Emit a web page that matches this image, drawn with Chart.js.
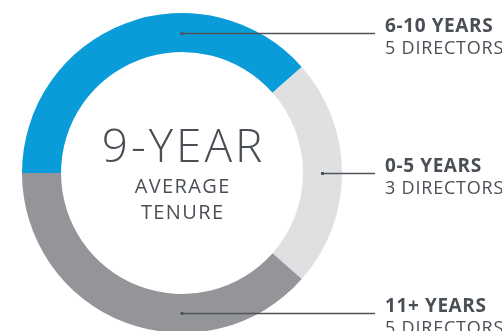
<!DOCTYPE html>
<html>
<head>
<meta charset="utf-8">
<script src="https://cdn.jsdelivr.net/npm/chart.js@4"></script>
<style>
  html, body { margin: 0; padding: 0; background: #fff; overflow: hidden; }
  #tenure-chart { display: block; }
</style>
</head>
<body>
<canvas id="tenure-chart" width="502" height="333"></canvas>
<script>
// Board tenure data
var categories = ['6-10 YEARS', '0-5 YEARS', '11+ YEARS'];
var directors = [5, 3, 5];
var centerTitle = '9-YEAR';
var centerLines = ['AVERAGE', 'TENURE'];

var sliceColors = ['#0a9cd8', '#dfe0e2', '#939598'];
var textColor = '#4a4f56';
var lineColor = '#50555c';

// Draws the leader lines, the labels on the right and the text in the hole
var tenureLabels = {
  id: 'tenureLabels',
  afterDraw: function (chart, args, opts) {
    var ctx = chart.ctx;
    var arcs = chart.getDatasetMeta(0).data;
    ctx.save();

    arcs.forEach(function (arc, i) {
      var p = arc.getProps(['x', 'y', 'innerRadius', 'outerRadius'], true);
      var r = (p.innerRadius + p.outerRadius) / 2;
      var a = opts.leaderAngles[i] * Math.PI / 180;
      var sx = p.x + Math.cos(a) * r;
      var sy = Math.round(p.y + Math.sin(a) * r) + 0.5;

      ctx.strokeStyle = lineColor;
      ctx.lineWidth = 1.3;
      ctx.beginPath();
      ctx.moveTo(sx, sy);
      ctx.lineTo(opts.lineEnd, sy);
      ctx.stroke();
      ctx.fillStyle = lineColor;
      ctx.fillRect(sx - 1.5, sy - 1.5, 3, 3);

      ctx.fillStyle = textColor;
      ctx.textAlign = 'left';
      ctx.textBaseline = 'alphabetic';
      ctx.letterSpacing = '0.6px';
      ctx.font = 'bold 19px "Open Sans"';
      ctx.fillText(chart.data.labels[i], opts.textX, sy - 2);
      ctx.letterSpacing = '0.8px';
      ctx.font = '18px "Open Sans"';
      ctx.fillText(chart.data.datasets[0].data[i] + ' DIRECTORS', opts.textX, sy + 20);
    });

    // centre text
    var c = arcs[0].getProps(['x', 'y'], true);
    ctx.textAlign = 'center';
    ctx.fillStyle = textColor;
    ctx.letterSpacing = '3px';
    ctx.font = '300 46px "Open Sans"';
    ctx.fillText(centerTitle, c.x + 1.5, c.y - 11);
    ctx.letterSpacing = '1.4px';
    ctx.font = '20px "Open Sans"';
    ctx.fillText(centerLines[0], c.x + 0.7, c.y + 20);
    ctx.fillText(centerLines[1], c.x + 0.7, c.y + 46);

    ctx.restore();
  }
};

var chart = new Chart(document.getElementById('tenure-chart'), {
  type: 'doughnut',
  data: {
    labels: categories,
    datasets: [{
      data: directors,
      backgroundColor: sliceColors,
      borderWidth: 0
    }]
  },
  options: {
    responsive: false,
    animation: false,
    rotation: -90,
    cutout: '75.6%',
    layout: {
      padding: { left: 22, top: 13, right: 160, bottom: 0 }
    },
    plugins: {
      legend: { display: false },
      tooltip: { enabled: false },
      tenureLabels: {
        leaderAngles: [-90, 0, 90],
        lineEnd: 375,
        textX: 385
      }
    }
  },
  plugins: [tenureLabels]
});
</script>
</body>
</html>
